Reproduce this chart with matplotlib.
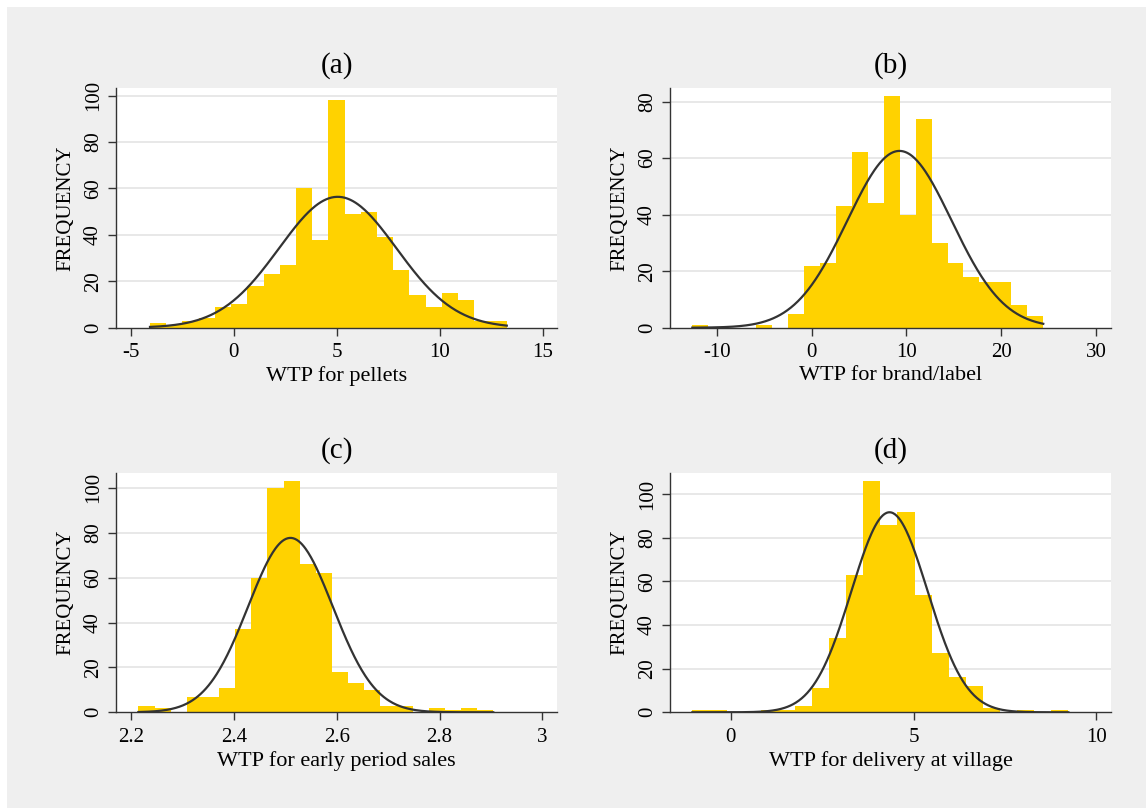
import numpy as np
import matplotlib.pyplot as plt
from matplotlib.patches import Rectangle

plt.rcParams['font.family'] = ['Liberation Serif', 'DejaVu Serif']
plt.rcParams['axes.unicode_minus'] = False

W, H = 1146, 808

# --- duomenys: histogramų dažniai (22 stulpeliai kiekviename) ---
a_start, a_width = -4.06, 0.787
a_counts = [2, 1, 3, 4, 9, 10, 18, 23, 27, 60, 38, 98, 49, 50, 39, 25, 14, 9, 15, 12, 3, 3]
a_mu, a_sd = 5.05, 2.85

b_start, b_width = -12.57, 1.681
b_counts = [1, 0, 0, 0, 1, 0, 5, 22, 23, 43, 62, 44, 82, 40, 74, 30, 23, 18, 16, 16, 8, 4]
b_mu, b_sd = 9.26, 5.49

c_start, c_width = 2.2143, 0.03137
c_counts = [3, 2, 0, 7, 7, 11, 37, 60, 100, 103, 66, 62, 18, 13, 10, 3, 3, 0, 2, 1, 2, 1]
c_mu, c_sd = 2.510, 0.0823

d_start, d_width = -1.049, 0.4674
d_counts = [1, 1, 0, 0, 1, 1, 3, 11, 34, 63, 106, 86, 92, 54, 27, 16, 12, 2, 0, 1, 0, 1]
d_mu, d_sd = 4.343, 1.041

titles = ['(a)', '(b)', '(c)', '(d)']
xlabels = ['WTP for pellets', 'WTP for brand/label',
           'WTP for early period sales', 'WTP for delivery at village']
xticks = [[-5, 0, 5, 10, 15], [-10, 0, 10, 20, 30],
          [2.2, 2.4, 2.6, 2.8, 3.0], [0, 5, 10]]
xticklabels = [['-5', '0', '5', '10', '15'], ['-10', '0', '10', '20', '30'],
               ['2.2', '2.4', '2.6', '2.8', '3'], ['0', '5', '10']]
yticks = [[0, 20, 40, 60, 80, 100], [0, 20, 40, 60, 80],
          [0, 20, 40, 60, 80, 100], [0, 20, 40, 60, 80, 100]]
xlims = [(-5.71, 15.69), (-14.92, 31.55), (2.1708, 3.0284), (-1.66, 10.40)]
ylims = [103.3, 84.8, 106.8, 109.9]

BAR = '#ffd200'
LINE = '#333333'


def histograma(ax, start, width, counts, mu, sd, i):
    """ Nubraižoma histograma su normaliojo skirstinio kreive. """
    counts = np.array(counts)
    edges = start + width * np.arange(len(counts) + 1)
    ax.bar(edges[:-1], counts, width=width, align='edge', color=BAR,
           linewidth=0, zorder=2)
    n = counts.sum()
    xs = np.linspace(edges[0], edges[-1], 400)
    ys = n * width * np.exp(-0.5 * ((xs - mu) / sd) ** 2) / (np.sqrt(2 * np.pi) * sd)
    ax.plot(xs, ys, color=LINE, lw=1.6, zorder=3)

    ax.set_xlim(*xlims[i])
    ax.set_ylim(0, ylims[i])
    ax.set_xticks(xticks[i])
    ax.set_xticklabels(xticklabels[i])
    ax.set_yticks(yticks[i])
    ax.set_yticklabels([str(t) for t in yticks[i]], rotation=90, va='center')
    for t in yticks[i][1:]:
        ax.axhline(t, color='#e6e6e6', lw=1.3, zorder=1)
    for s in ['top', 'right']:
        ax.spines[s].set_visible(False)
    for s in ['left', 'bottom']:
        ax.spines[s].set_color(LINE)
        ax.spines[s].set_linewidth(1.0)
    ax.tick_params(direction='out', length=5.5, width=1.0, color=LINE,
                   labelsize=15, pad=4)
    ax.tick_params(axis='x', pad=5.5)
    ax.set_title(titles[i], fontsize=21, pad=11)
    ax.set_xlabel(xlabels[i], fontsize=16)
    ax.set_ylabel('FREQUENCY', fontsize=15)
    ax.xaxis.set_label_coords(0.5, -0.16)
    ax.yaxis.set_label_coords(-0.092, 0.5)


fig = plt.figure(figsize=(W / 100, H / 100), dpi=100)
fig.patch.set_facecolor('white')
fig.patches.append(Rectangle((7 / W, 0), 1 - 7 / W, 1 - 7 / H, transform=fig.transFigure,
                             facecolor='#efefef', edgecolor='none', zorder=-10))

# ašių vietos pikseliais: kairė, viršus, dešinė, apačia
vietos = [(116, 88, 557, 327.7), (670, 88, 1111, 327.7),
          (116, 472.6, 557, 712.3), (670, 472.6, 1111, 712.3)]
duomenys = [(a_start, a_width, a_counts, a_mu, a_sd),
            (b_start, b_width, b_counts, b_mu, b_sd),
            (c_start, c_width, c_counts, c_mu, c_sd),
            (d_start, d_width, d_counts, d_mu, d_sd)]

for i, (l, t, r, b) in enumerate(vietos):
    ax = fig.add_axes([l / W, 1 - b / H, (r - l) / W, (b - t) / H])
    ax.set_facecolor('white')
    histograma(ax, *duomenys[i], i)

fig.savefig('out.png', dpi=100)
